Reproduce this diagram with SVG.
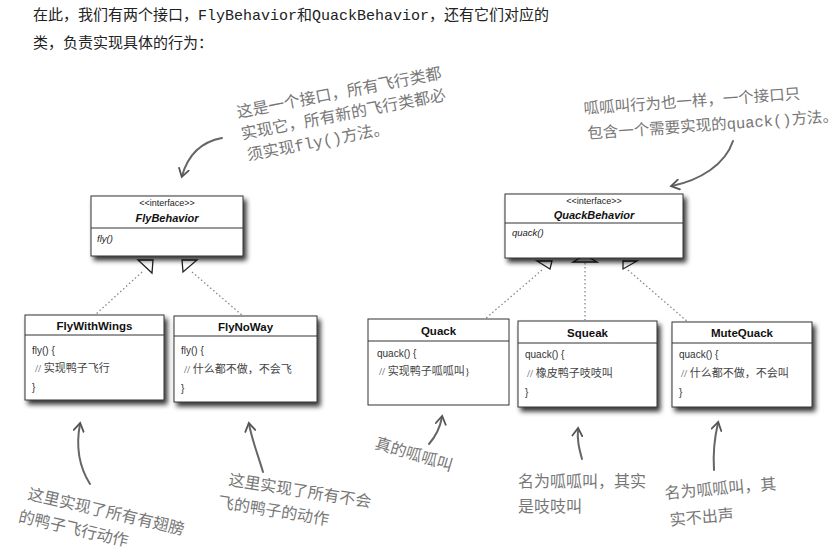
<svg xmlns="http://www.w3.org/2000/svg" width="839" height="551" viewBox="0 0 839 551">
<defs>
<filter id="sh" x="-10%" y="-10%" width="130%" height="140%">
<feGaussianBlur in="SourceAlpha" stdDeviation="2.5"/>
<feOffset dx="3" dy="4" result="b"/>
<feComponentTransfer><feFuncA type="linear" slope="0.8"/></feComponentTransfer>
<feMerge><feMergeNode/><feMergeNode in="SourceGraphic"/></feMerge>
</filter>
<marker id="ah" viewBox="0 0 12 12" refX="8" refY="6" markerWidth="12" markerHeight="12" markerUnits="userSpaceOnUse" orient="auto">
<path d="M1,1 L9,6 L1,11" fill="none" stroke="#555" stroke-width="1.8" stroke-linecap="round"/>
</marker>
</defs>
<style>
.box{fill:#fff;stroke:#333;stroke-width:1}
.ln{stroke:#333;stroke-width:1}
.st{font-family:"Liberation Sans",Arial,sans-serif;font-size:9px;fill:#222;text-anchor:middle}
.in{font-family:"Liberation Sans",Arial,sans-serif;font-size:11px;font-weight:bold;font-style:italic;fill:#111;text-anchor:middle}
.mi{font-family:"Liberation Sans",Arial,sans-serif;font-size:9.5px;font-style:italic;fill:#222}
.cn{font-family:"Liberation Sans",Arial,sans-serif;font-size:11.5px;font-weight:bold;fill:#111;text-anchor:middle}
.bd{font-family:"Liberation Sans","Noto Sans CJK SC",sans-serif;font-size:10px;fill:#333}
.cm{font-family:"Liberation Serif","Noto Sans CJK SC",serif;font-size:11px;fill:#444}
.hd{font-family:"Noto Sans CJK SC",sans-serif;font-size:15px;fill:#222}
.mono{font-family:"Liberation Mono","Noto Sans CJK SC",monospace}
.an{font-family:"Noto Sans CJK SC",sans-serif;font-size:16px;fill:#777}
.an2{font-family:"Noto Sans CJK SC",sans-serif;font-size:15.5px;fill:#777}
.dot{stroke:#888;stroke-width:1.3;stroke-dasharray:1.5 2.5;fill:none}
.tri{fill:#fff;stroke:#222;stroke-width:1.3}
.arr{fill:none;stroke:#666;stroke-width:2;stroke-linecap:round}
</style>

<g id="header">
<text class="hd" x="33" y="20">在此，我们有两个接口，<tspan class="mono">FlyBehavior</tspan>和<tspan class="mono">QuackBehavior</tspan>，还有它们对应的</text>
<text class="hd" x="33" y="48">类，负责实现具体的行为：</text>
</g>

<g id="connectors">
<path class="dot" d="M142,272 L95,315"/>
<path class="dot" d="M192,272 L243,316"/>
<path class="dot" d="M542,270 L485,319"/>
<path class="dot" d="M585,263 L585,320"/>
<path class="dot" d="M628,270 L688,322"/>
<polygon class="tri" points="138,260 153,260 152,273"/>
<polygon class="tri" points="182,260 197,260 183,272"/>
<polygon class="tri" points="537,261 552,261 550,269"/>
<polygon class="tri" points="573,262 597,262 585,255"/>
<polygon class="tri" points="623,261 637,261 623,269"/>
</g>

<g id="FlyBehavior">
<rect class="box" x="91" y="196" width="152" height="60" filter="url(#sh)"/>
<line class="ln" x1="91" y1="228" x2="243" y2="228"/>
<text class="st" x="167" y="206">&lt;&lt;interface&gt;&gt;</text>
<text class="in" x="167" y="222">FlyBehavior</text>
<text class="mi" x="97" y="242">fly()</text>
</g>

<g id="QuackBehavior">
<rect class="box" x="505" y="194" width="178" height="64" filter="url(#sh)"/>
<line class="ln" x1="505" y1="223" x2="683" y2="223"/>
<text class="st" x="594" y="204">&lt;&lt;interface&gt;&gt;</text>
<text class="in" x="594" y="219">QuackBehavior</text>
<text class="mi" x="512" y="236">quack()</text>
</g>

<g id="FlyWithWings">
<rect class="box" x="25" y="315" width="139" height="85" filter="url(#sh)"/>
<line class="ln" x1="25" y1="335" x2="164" y2="335"/>
<text class="cn" x="94.5" y="330">FlyWithWings</text>
<text class="bd" x="32" y="354">fly() {</text>
<text class="cm" x="35" y="372">// 实现鸭子飞行</text>
<text class="bd" x="32" y="391">}</text>
</g>

<g id="FlyNoWay">
<rect class="box" x="174" y="316" width="143" height="86" filter="url(#sh)"/>
<line class="ln" x1="174" y1="336" x2="317" y2="336"/>
<text class="cn" x="245.5" y="331">FlyNoWay</text>
<text class="bd" x="181" y="354">fly() {</text>
<text class="cm" x="184" y="373">// 什么都不做，不会飞</text>
<text class="bd" x="181" y="392">}</text>
</g>

<g id="Quack">
<rect class="box" x="368" y="319" width="141" height="86"/>
<line class="ln" x1="368" y1="341" x2="509" y2="341"/>
<text class="cn" x="438.5" y="335">Quack</text>
<text class="bd" x="377" y="357">quack() {</text>
<text class="cm" x="379" y="375">// 实现鸭子呱呱叫}</text>
</g>

<g id="Squeak">
<rect class="box" x="518" y="321" width="139" height="86" filter="url(#sh)"/>
<line class="ln" x1="518" y1="343" x2="657" y2="343"/>
<text class="cn" x="587.5" y="337">Squeak</text>
<text class="bd" x="525" y="358">quack() {</text>
<text class="cm" x="527" y="377">// 橡皮鸭子吱吱叫</text>
<text class="bd" x="525" y="396">}</text>
</g>

<g id="MuteQuack">
<rect class="box" x="672" y="322" width="140" height="85" filter="url(#sh)"/>
<line class="ln" x1="672" y1="343" x2="812" y2="343"/>
<text class="cn" x="742" y="337">MuteQuack</text>
<text class="bd" x="679" y="358">quack() {</text>
<text class="cm" x="681" y="377">// 什么都不做，不会叫</text>
<text class="bd" x="679" y="396">}</text>
</g>

<g id="annotations">
<g transform="translate(238,118) rotate(-11)">
<text class="an" x="0" y="0">这是一个接口，所有飞行类都</text>
<text class="an" x="0" y="22">实现它，所有新的飞行类都必</text>
<text class="an" x="2" y="44">须实现<tspan class="mono">fly()</tspan>方法。</text>
</g>
<path class="arr" d="M222,138 C200,142 188,155 182,176" marker-end="url(#ah)"/>

<g transform="translate(584,114) rotate(-4)">
<text class="an2" x="0" y="0">呱呱叫行为也一样，一个接口只</text>
<text class="an2" x="2" y="25">包含一个需要实现的<tspan class="mono">quack()</tspan>方法。</text>
</g>
<path class="arr" d="M733,141 C725,165 700,180 672,186" marker-end="url(#ah)"/>

<path class="arr" d="M90,484 C78,465 76,445 80,424" marker-end="url(#ah)"/>
<g transform="translate(27,499) rotate(13)">
<text class="an" x="0" y="0">这里实现了所有有翅膀</text>
<text class="an" x="-4" y="24">的鸭子飞行动作</text>
</g>

<path class="arr" d="M263,472 C258,455 252,440 249,424" marker-end="url(#ah)"/>
<g transform="translate(228,485) rotate(9)">
<text class="an" x="0" y="0">这里实现了所有不会</text>
<text class="an" x="-7" y="24">飞的鸭子的动作</text>
</g>

<path class="arr" d="M429,444 C436,436 440,428 442,417" marker-end="url(#ah)"/>
<g transform="translate(374,448) rotate(17)">
<text class="an" x="0" y="0">真的呱呱叫</text>
</g>

<path class="arr" d="M582,459 C579,448 577,440 578,429" marker-end="url(#ah)"/>
<text class="an" x="518" y="487">名为呱呱叫，其实</text>
<text class="an" x="518" y="512">是吱吱叫</text>

<path class="arr" d="M714,470 C713,455 714,440 718,423" marker-end="url(#ah)"/>
<g transform="translate(665,499) rotate(-5)">
<text class="an" x="0" y="0">名为呱呱叫，其</text>
<text class="an" x="3" y="27">实不出声</text>
</g>
</g>
</svg>
